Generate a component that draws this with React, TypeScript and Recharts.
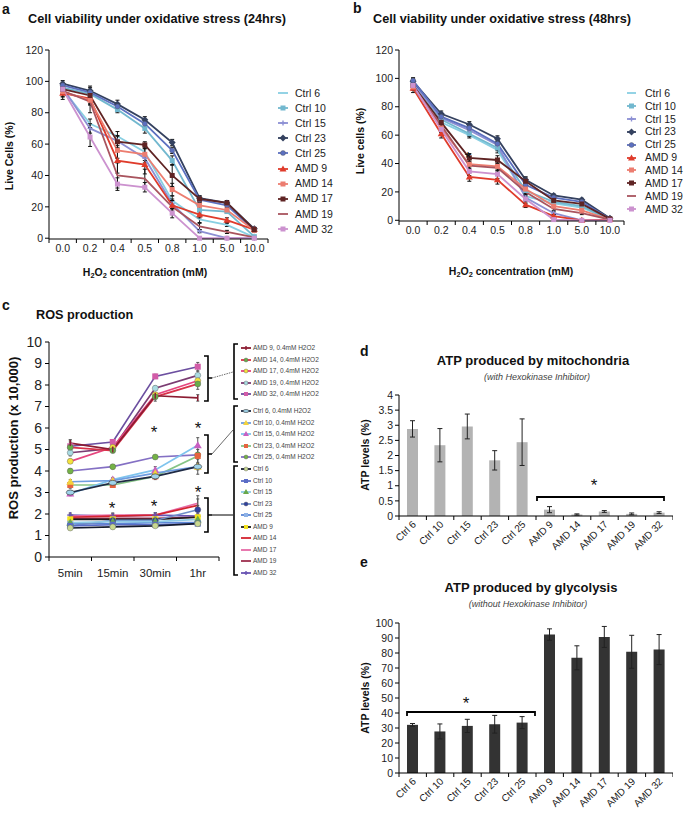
import React from "react";
import { LineChart, Line, BarChart, Bar, XAxis, YAxis, ErrorBar } from "recharts";

const FONT = '"Liberation Sans", Arial, Helvetica, sans-serif';

// ---------- a / b: cell viability ----------
const doses = ["0.0", "0.2", "0.4", "0.5", "0.8", "1.0", "5.0", "10.0"];
const viabilityTicks = [0, 20, 40, 60, 80, 100, 120];

// 24 hrs (% live cells)
const v24Ctrl6 = [95, 73, 65, 55, 24, 12, 8.5, 0.5];
const v24Ctrl10 = [96, 92, 82, 70, 49.5, 18, 17, 1];
const v24Ctrl15 = [96, 70, 62, 51, 22, 4.5, 0, 0];
const v24Ctrl23 = [98.5, 94, 85.5, 75.5, 61, 25.5, 22.5, 6];
const v24Ctrl25 = [97.5, 93, 84, 73, 56, 24.5, 21, 5];
const v24Amd9 = [92.5, 89, 49.5, 47, 21, 15, 11.5, 5.5];
const v24Amd14 = [93.5, 88, 56, 53.5, 31, 21, 18, 5];
const v24Amd17 = [95, 91, 61.5, 59.5, 40, 25, 22.5, 5.5];
const v24Amd19 = [94, 87, 40, 38, 20, 7.5, 4, 0.5];
const v24Amd32 = [95, 64.5, 34.5, 32.5, 16, 0, 0, 0];

const e24Ctrl6 = [3, 3, 3, 2, 3, 2, 1, 0.5];
const e24Ctrl10 = [2, 2, 2, 3, 3, 2, 1, 0.5];
const e24Ctrl15 = [2, 3, 3, 3, 3, 1, 0.5, 0.5];
const e24Ctrl23 = [2, 2, 2.5, 2, 2, 1.5, 1.5, 1];
const e24Ctrl25 = [2, 2, 2, 2, 2, 1.5, 1.5, 1];
const e24Amd9 = [4, 3, 8, 6, 3, 2, 1.5, 1];
const e24Amd14 = [3, 3, 5, 4, 4, 2, 1.5, 1];
const e24Amd17 = [3, 6, 4, 2, 7, 2, 1.5, 1];
const e24Amd19 = [4, 7, 8, 6, 4, 2, 1, 0.5];
const e24Amd32 = [3, 6, 4, 3, 3, 0, 0, 0];

// 48 hrs (% live cells)
const v48Ctrl6 = [96, 69, 60, 49.5, 17, 12, 9, 0.5];
const v48Ctrl10 = [97, 71, 61, 51, 21, 13, 10, 0.5];
const v48Ctrl15 = [97, 72, 63.5, 53, 16, 5, 0, 0.5];
const v48Ctrl23 = [98, 75, 67.5, 57.5, 28.5, 17.5, 14.5, 1.5];
const v48Ctrl25 = [98.5, 73, 65, 54, 25, 16, 13, 1];
const v48Amd9 = [93, 61, 30.5, 28.5, 11, 3, 0, 0.5];
const v48Amd14 = [94, 65, 39.5, 38, 22, 10, 7, 0.5];
const v48Amd17 = [95, 69, 44, 42.5, 27.5, 14, 11.5, 1];
const v48Amd19 = [94, 67, 38.5, 37, 20, 8, 5, 0.5];
const v48Amd32 = [95, 64, 34.5, 32.5, 15, 0.5, 0, 0];

const e48Ctrl6 = [2, 2, 2, 2, 2, 1, 1, 0.5];
const e48Ctrl10 = [2, 2, 2, 2, 2, 1, 1, 0.5];
const e48Ctrl15 = [2, 2, 2, 2, 2, 1, 0.5, 0.5];
const e48Ctrl23 = [2, 2, 2, 2, 2, 1, 1, 0.5];
const e48Ctrl25 = [2, 2, 2, 2, 2, 1, 1, 0.5];
const e48Amd9 = [3, 3, 3, 3, 2, 1, 0.5, 0.5];
const e48Amd14 = [2, 3, 3, 3, 3, 1, 1, 0.5];
const e48Amd17 = [3, 5, 3, 3, 3, 1, 1, 0.5];
const e48Amd19 = [2, 4, 3, 3, 3, 1, 1, 0.5];
const e48Amd32 = [2, 4, 3, 3, 3, 0.5, 0, 0];

const viabilitySeries = [
  { name: "Ctrl 6", color: "#88cfe2", mark: "none" },
  { name: "Ctrl 10", color: "#72b8cf", mark: "square" },
  { name: "Ctrl 15", color: "#8d90d4", mark: "plus" },
  { name: "Ctrl 23", color: "#34415f", mark: "diamond" },
  { name: "Ctrl 25", color: "#5c70c0", mark: "circle" },
  { name: "AMD 9", color: "#df3b2b", mark: "triangle" },
  { name: "AMD 14", color: "#ec7d70", mark: "square" },
  { name: "AMD 17", color: "#5f2424", mark: "square" },
  { name: "AMD 19", color: "#a9545e", mark: "none" },
  { name: "AMD 32", color: "#cc92cf", mark: "square" },
];
const v24 = [v24Ctrl6, v24Ctrl10, v24Ctrl15, v24Ctrl23, v24Ctrl25, v24Amd9, v24Amd14, v24Amd17, v24Amd19, v24Amd32];
const e24 = [e24Ctrl6, e24Ctrl10, e24Ctrl15, e24Ctrl23, e24Ctrl25, e24Amd9, e24Amd14, e24Amd17, e24Amd19, e24Amd32];
const v48 = [v48Ctrl6, v48Ctrl10, v48Ctrl15, v48Ctrl23, v48Ctrl25, v48Amd9, v48Amd14, v48Amd17, v48Amd19, v48Amd32];
const e48 = [e48Ctrl6, e48Ctrl10, e48Ctrl15, e48Ctrl23, e48Ctrl25, e48Amd9, e48Amd14, e48Amd17, e48Amd19, e48Amd32];

// ---------- c: ROS production (x 10,000) ----------
const times = ["5min", "15min", "30min", "1hr"];
const rosTicks = [0, 1, 2, 3, 4, 5, 6, 7, 8, 9, 10];

const rAmd9H = [5.3, 5.0, 7.5, 7.4];
const rAmd14H = [5.1, 4.95, 7.45, 8.05];
const rAmd17H = [4.45, 5.1, 7.55, 8.2];
const rAmd19H = [4.85, 5.05, 7.85, 8.45];
const rAmd32H = [5.15, 5.35, 8.4, 8.85];
const rCtrl6H = [3.0, 3.45, 3.75, 4.2];
const rCtrl10H = [3.5, 3.55, 3.9, 4.2];
const rCtrl15H = [2.95, 3.6, 4.05, 5.2];
const rCtrl23H = [3.35, 3.35, 3.75, 4.7];
const rCtrl25H = [4.0, 4.2, 4.65, 4.75];
const rCtrl6 = [1.35, 1.4, 1.45, 1.55];
const rCtrl10 = [1.45, 1.5, 1.5, 1.55];
const rCtrl15 = [1.6, 1.65, 1.65, 1.75];
const rCtrl23 = [1.45, 1.7, 1.7, 2.2];
const rCtrl25 = [1.55, 1.55, 1.6, 1.6];
const rAmd9 = [1.75, 1.75, 1.75, 1.85];
const rAmd14 = [1.85, 1.9, 1.95, 2.4];
const rAmd17 = [1.9, 1.95, 1.95, 2.5];
const rAmd19 = [1.8, 1.8, 1.8, 1.85];
const rAmd32 = [1.95, 1.9, 1.95, 1.9];

const reAmd9H = [0.15, 0.1, 0.15, 0.15];
const reAmd14H = [0.35, 0.1, 0.2, 0.25];
const reAmd17H = [0.1, 0.1, 0.1, 0.2];
const reAmd19H = [0.15, 0.1, 0.1, 0.2];
const reAmd32H = [0.2, 0.1, 0.1, 0.2];
const reCtrl6H = [0.1, 0.1, 0.1, 0.15];
const reCtrl10H = [0.1, 0.1, 0.1, 0.35];
const reCtrl15H = [0.1, 0.1, 0.15, 0.35];
const reCtrl23H = [0.15, 0.1, 0.15, 0.3];
const reCtrl25H = [0.1, 0.1, 0.05, 0.1];
const reCtrl6 = [0.05, 0.05, 0.05, 0.05];
const reCtrl10 = [0.05, 0.05, 0.05, 0.05];
const reCtrl15 = [0.05, 0.05, 0.05, 0.1];
const reCtrl23 = [0.1, 0.1, 0.1, 0.2];
const reCtrl25 = [0.05, 0.05, 0.05, 0.05];
const reAmd9 = [0.05, 0.05, 0.05, 0.1];
const reAmd14 = [0.1, 0.1, 0.1, 0.3];
const reAmd17 = [0.1, 0.1, 0.1, 0.35];
const reAmd19 = [0.05, 0.05, 0.05, 0.1];
const reAmd32 = [0.1, 0.1, 0.1, 0.1];

const rosSeries = [
  { name: "AMD 9, 0.4mM H2O2", color: "#8c1c32", mark: "bar" },
  { name: "AMD 14, 0.4mM H2O2", color: "#d8324a", mark: "circle", markColor: "#67ad4a" },
  { name: "AMD 17, 0.4mM H2O2", color: "#e5457e", mark: "circle", markColor: "#f4e23c" },
  { name: "AMD 19, 0.4mM H2O2", color: "#7b3c72", mark: "circle", markColor: "#a9dbe2" },
  { name: "AMD 32, 0.4mM H2O2", color: "#6c4fa0", mark: "square", markColor: "#d25ca8" },
  { name: "Ctrl 6, 0.4mM H2O2", color: "#1f2a44", mark: "oval", markColor: "#9fd3ea" },
  { name: "Ctrl 10, 0.4mM H2O2", color: "#6f9ee0", mark: "triangle", markColor: "#f2d23e" },
  { name: "Ctrl 15, 0.4mM H2O2", color: "#7fc4ee", mark: "triangle", markColor: "#c85fc2" },
  { name: "Ctrl 23, 0.4mM H2O2", color: "#86c486", mark: "square", markColor: "#e5643f" },
  { name: "Ctrl 25, 0.4mM H2O2", color: "#8470c4", mark: "circle", markColor: "#74b246" },
  { name: "Ctrl 6", color: "#151b2e", mark: "circle", markColor: "#c9d890" },
  { name: "Ctrl 10", color: "#5a6cc6", mark: "square", markColor: "#5a6cc6" },
  { name: "Ctrl 15", color: "#8fcbe6", mark: "triangle", markColor: "#68a84a" },
  { name: "Ctrl 23", color: "#6f8ec8", mark: "circle", markColor: "#2f3f9e" },
  { name: "Ctrl 25", color: "#5b86d6", mark: "square", markColor: "#8eb2e6" },
  { name: "AMD 9", color: "#1c1c1c", mark: "square", markColor: "#f2e21e" },
  { name: "AMD 14", color: "#d4242f", mark: "none" },
  { name: "AMD 17", color: "#e66aa6", mark: "none" },
  { name: "AMD 19", color: "#9e2f4e", mark: "none" },
  { name: "AMD 32", color: "#6a55b4", mark: "plus", markColor: "#6a55b4" },
];
const rosValues = [rAmd9H, rAmd14H, rAmd17H, rAmd19H, rAmd32H, rCtrl6H, rCtrl10H, rCtrl15H, rCtrl23H, rCtrl25H,
  rCtrl6, rCtrl10, rCtrl15, rCtrl23, rCtrl25, rAmd9, rAmd14, rAmd17, rAmd19, rAmd32];
const rosErrors = [reAmd9H, reAmd14H, reAmd17H, reAmd19H, reAmd32H, reCtrl6H, reCtrl10H, reCtrl15H, reCtrl23H, reCtrl25H,
  reCtrl6, reCtrl10, reCtrl15, reCtrl23, reCtrl25, reAmd9, reAmd14, reAmd17, reAmd19, reAmd32];

// ---------- d / e: ATP ----------
const lines = ["Ctrl 6", "Ctrl 10", "Ctrl 15", "Ctrl 23", "Ctrl 25", "AMD 9", "AMD 14", "AMD 17", "AMD 19", "AMD 32"];
const atpMito = [2.88, 2.34, 2.96, 1.84, 2.44, 0.21, 0.05, 0.15, 0.07, 0.11];
const atpMitoErr = [0.27, 0.55, 0.41, 0.32, 0.77, 0.1, 0.02, 0.03, 0.03, 0.03];
const mitoTicks = [0, 0.5, 1, 1.5, 2, 2.5, 3, 3.5, 4];
const atpGlyco = [32.1, 27.7, 31.4, 32.5, 33.6, 92.3, 76.8, 90.7, 80.8, 82.3];
const atpGlycoErr = [0.9, 5, 4.4, 5.9, 4, 3.8, 8, 7, 11, 10];
const glycoTicks = [0, 10, 20, 30, 40, 50, 60, 70, 80, 90, 100];

function toRows(cats: string[], values: number[][], errors: number[][]) {
  return cats.map((cat, i) => {
    const row: Record<string, string | number> = { cat };
    values.forEach((v, s) => {
      row["v" + s] = v[i];
      row["e" + s] = errors[s][i];
    });
    return row;
  });
}

function Marker({ cx, cy, shape, fill, size }: any) {
  if (cx == null || cy == null) return <g />;
  const r = size / 2;
  switch (shape) {
    case "circle":
      return <circle cx={cx} cy={cy} r={r} fill={fill} stroke="#555" strokeWidth={0.4} />;
    case "oval":
      return <ellipse cx={cx} cy={cy} rx={r + 1} ry={r - 0.5} fill={fill} stroke="#333" strokeWidth={0.6} />;
    case "square":
      return <rect x={cx - r} y={cy - r} width={size} height={size} fill={fill} />;
    case "diamond":
      return <polygon points={`${cx},${cy - r - 1} ${cx + r + 1},${cy} ${cx},${cy + r + 1} ${cx - r - 1},${cy}`} fill={fill} />;
    case "triangle":
      return <polygon points={`${cx},${cy - r - 1} ${cx + r + 1},${cy + r} ${cx - r - 1},${cy + r}`} fill={fill} />;
    case "plus":
      return (
        <g stroke={fill} strokeWidth={1.4}>
          <line x1={cx - r} x2={cx + r} y1={cy} y2={cy} />
          <line x1={cx} x2={cx} y1={cy - r} y2={cy + r} />
        </g>
      );
    case "bar":
      return <line x1={cx} x2={cx} y1={cy - r} y2={cy + r} stroke={fill} strokeWidth={1.4} />;
    default:
      return <g />;
  }
}

// category label at the band centre, tick marks on the band edges (Excel style)
function BandTick(props: any) {
  const { x, y, payload, index, bw, count, fontSize, dy, rotate } = props;
  const edge = (px: number) => <line x1={px} x2={px} y1={y} y2={y + 4} stroke="#000" strokeWidth={1} />;
  return (
    <g>
      {edge(x - bw / 2)}
      {index === count - 1 && edge(x + bw / 2)}
      {rotate ? (
        <text x={x + 4} y={y + dy} textAnchor="end" fontSize={fontSize} fill="#222"
          transform={`rotate(-45 ${x + 4} ${y + dy})`}>{payload.value}</text>
      ) : (
        <text x={x} y={y + dy} textAnchor="middle" fontSize={fontSize} fill="#222">{payload.value}</text>
      )}
    </g>
  );
}

function Txt({ x, y, size, bold, italic, anchor = "middle", rotate, color = "#111", children }: any) {
  const tx = anchor === "middle" ? "-50%" : anchor === "end" ? "-100%" : "0";
  return (
    <div style={{
      position: "absolute", left: x, top: y, whiteSpace: "nowrap", lineHeight: 1, color,
      fontSize: size, fontWeight: bold ? 700 : 400, fontStyle: italic ? "italic" : "normal",
      transform: `translate(${tx}, -50%)${rotate ? ` rotate(${rotate}deg)` : ""}`,
    }}>{children}</div>
  );
}

function Legend({ items, left, ys, fontSize, textOffset, lineLen, color = "#222", markSize }: any) {
  return (
    <>
      {items.map((s: any, i: number) => (
        <div key={s.name} style={{ position: "absolute", left, top: ys[i], height: 0 }}>
          <svg width={lineLen + 2} height={10} style={{ position: "absolute", left: 0, top: -5 }}>
            <line x1={0} x2={lineLen} y1={5} y2={5} stroke={s.color} strokeWidth={1.8} />
            <Marker cx={lineLen / 2} cy={5} shape={s.mark} fill={s.markColor ?? s.color} size={markSize} />
          </svg>
          <span style={{ position: "absolute", left: textOffset, top: -fontSize * 0.6, fontSize, lineHeight: 1.2, whiteSpace: "nowrap", color }}>
            {s.name}
          </span>
        </div>
      ))}
    </>
  );
}

function ViabilityChart({ left, top, width, height, bw, values, errors }: any) {
  const rows = toRows(doses, values, errors);
  return (
    <div style={{ position: "absolute", left, top }}>
      <LineChart width={width} height={height} data={rows} margin={{ top: 10, right: width === 270 ? 2 : 1, left: 0, bottom: 0 }}>
        <XAxis dataKey="cat" interval={0} height={22} tickSize={0} tickMargin={0} tickLine={false}
          axisLine={{ stroke: "#000" }} padding={{ left: bw / 2, right: bw / 2 }}
          tick={(p: any) => <BandTick {...p} bw={bw} count={doses.length} fontSize={10.5} dy={13} />} />
        <YAxis domain={[0, 120]} ticks={viabilityTicks} interval={0} width={49} tickSize={4} tickMargin={2}
          axisLine={{ stroke: "#000" }} tickLine={{ stroke: "#000" }} tick={{ fontSize: 10.5, fill: "#222" }} />
        {viabilitySeries.map((s, k) => (
          <Line key={s.name} dataKey={"v" + k} type="linear" stroke={s.color} strokeWidth={1.8}
            isAnimationActive={false} activeDot={false}
            dot={(p: any) => <Marker key={`${k}-${p.index}`} cx={p.cx} cy={p.cy} shape={s.mark} fill={s.color} size={5} />}>
            <ErrorBar dataKey={"e" + k} width={2} stroke="#111" strokeWidth={1} direction="y" isAnimationActive={false} />
          </Line>
        ))}
      </LineChart>
    </div>
  );
}

function RosChart() {
  const rows = toRows(times, rosValues, rosErrors);
  const bw = 42.5;
  const order = rosSeries.map((_, k) => k).reverse();
  return (
    <div style={{ position: "absolute", left: 0, top: 330 }}>
      <LineChart width={220} height={252} data={rows} margin={{ top: 12, right: 1, left: 0, bottom: 0 }}>
        <XAxis dataKey="cat" interval={0} height={25} tickSize={0} tickMargin={0} tickLine={false}
          axisLine={{ stroke: "#000" }} padding={{ left: bw / 2, right: bw / 2 }}
          tick={(p: any) => <BandTick {...p} bw={bw} count={times.length} fontSize={11.5} dy={20} />} />
        <YAxis domain={[0, 10]} ticks={rosTicks} interval={0} width={49} tickSize={4} tickMargin={3}
          axisLine={{ stroke: "#000" }} tickLine={{ stroke: "#000" }} tick={{ fontSize: 14, fill: "#222" }} />
        {order.map((k) => {
          const s = rosSeries[k];
          return (
            <Line key={s.name} dataKey={"v" + k} type="linear" stroke={s.color} strokeWidth={1.7}
              isAnimationActive={false} activeDot={false}
              dot={(p: any) => <Marker key={`${k}-${p.index}`} cx={p.cx} cy={p.cy} shape={s.mark} fill={s.markColor ?? s.color} size={6} />}>
              <ErrorBar dataKey={"e" + k} width={1.5} stroke="#555" strokeWidth={1} direction="y" isAnimationActive={false} />
            </Line>
          );
        })}
      </LineChart>
    </div>
  );
}

function AtpChart({ top, height, values, errors, ticks, max, fill }: any) {
  const rows = lines.map((cat, i) => ({ cat, v: values[i], e: errors[i] }));
  const bw = 27.4;
  return (
    <div style={{ position: "absolute", left: 350, top }}>
      <BarChart width={323} height={height} data={rows} margin={{ top: 10, right: 0, left: 0, bottom: 0 }}>
        <XAxis dataKey="cat" interval={0} height={height - 10 - (max === 4 ? 121 : 150)} tickSize={0} tickMargin={0} tickLine={false}
          axisLine={{ stroke: "#000" }}
          tick={(p: any) => <BandTick {...p} bw={bw} count={lines.length} fontSize={10} dy={9} rotate />} />
        <YAxis domain={[0, max]} ticks={ticks} interval={0} width={49} tickSize={4} tickMargin={2}
          axisLine={{ stroke: "#000" }} tickLine={{ stroke: "#000" }} tick={{ fontSize: 10.5, fill: "#222" }} />
        <Bar dataKey="v" fill={fill} barSize={11} isAnimationActive={false}>
          <ErrorBar dataKey="e" width={2.5} stroke="#222" strokeWidth={1} isAnimationActive={false} />
        </Bar>
      </BarChart>
    </div>
  );
}

function Star({ x, y, size = 17 }: any) {
  return <text x={x} y={y + size * 0.58} textAnchor="middle" fontSize={size} fill="#111">*</text>;
}

function Annotations() {
  const k = { stroke: "#000", strokeWidth: 1.6, fill: "none" };
  return (
    <svg width={685} height={815} style={{ position: "absolute", left: 0, top: 0, pointerEvents: "none", fontFamily: FONT }}>
      <Star x={468} y={154} />
      {/* c: significance */}
      <Star x={154} y={428} />
      <Star x={198} y={424} />
      <Star x={198} y={488} />
      <Star x={112} y={504} />
      <Star x={154} y={502} />
      {/* c: brackets on the 1hr points and their links to the legend groups */}
      <path d="M204,356 H208 V401 H204 M208,378 H212" {...k} />
      <path d="M204,435 H208 V473 H204 M208,454 H212" {...k} />
      <path d="M204,498 H208 V532 H204 M208,515 H212" {...k} />
      <path d="M212,378 L233,372" stroke="#444" strokeWidth={0.8} strokeDasharray="1.5 1" />
      <path d="M212,454 L233,430" stroke="#444" strokeWidth={0.8} />
      <path d="M212,515 L233,515" stroke="#000" strokeWidth={1} />
      <path d="M238,344 H234 V399 H238" {...k} />
      <path d="M238,406 H234 V462 H238" {...k} />
      <path d="M238,466 H234 V575 H238" {...k} />
      {/* d */}
      <path d="M537,501 V497 H664 V501" {...k} strokeWidth={1.8} />
      <Star x={594} y={481} />
      {/* e */}
      <path d="M407,716 V712 H535 V716" {...k} strokeWidth={1.8} />
      <Star x={466} y={699} />
    </svg>
  );
}

export default function App() {
  const g = [348, 359.5, 371, 382.5, 394, 411, 422.5, 434, 445.5, 457];
  const rosYs = [...g, ...Array.from({ length: 10 }, (_, i) => 469 + i * 11.5)];
  const step = (y0: number, d: number) => viabilitySeries.map((_, i) => y0 + i * d);
  const h2o2 = (
    <>H<sub style={{ fontSize: "70%", verticalAlign: "-0.3em" }}>2</sub>O<sub style={{ fontSize: "70%", verticalAlign: "-0.3em" }}>2</sub> concentration (mM)</>
  );
  return (
    <div style={{ position: "absolute", left: 0, top: 0, width: 685, height: 815, background: "#fff", fontFamily: FONT, color: "#111", overflow: "hidden" }}>
      {/* a */}
      <Txt x={2} y={9} size={14} bold anchor="start">a</Txt>
      <Txt x={28} y={19} size={12.7} bold anchor="start">Cell viability under oxidative stress (24hrs)</Txt>
      <ViabilityChart left={0} top={40} width={270} height={221} bw={27.375} values={v24} errors={e24} />
      <Txt x={9} y={156} size={10.5} bold rotate={-90}>Live Cells (%)</Txt>
      <Txt x={145} y={273} size={10.5} bold>{h2o2}</Txt>
      <Legend items={viabilitySeries} left={278} ys={step(93, 15.1)} fontSize={10.5} textOffset={17} lineLen={10} markSize={5} />

      {/* b */}
      <Txt x={353} y={8} size={14} bold anchor="start">b</Txt>
      <Txt x={373} y={19} size={12.7} bold anchor="start">Cell viability under oxidative stress (48hrs)</Txt>
      <ViabilityChart left={350} top={40} width={275} height={203} bw={28.125} values={v48} errors={e48} />
      <Txt x={360} y={141} size={10.5} bold rotate={-90}>Live cells (%)</Txt>
      <Txt x={511} y={272} size={10.5} bold>{h2o2}</Txt>
      <Legend items={viabilitySeries} left={627} ys={step(93, 12.9)} fontSize={10.5} textOffset={18} lineLen={9} markSize={5} />

      {/* c */}
      <Txt x={2} y={305} size={14} bold anchor="start">c</Txt>
      <Txt x={36} y={315} size={12.7} bold anchor="start">ROS production</Txt>
      <RosChart />
      <Txt x={12.5} y={438} size={13} bold rotate={-90}>ROS production (x 10,000)</Txt>
      <Legend items={rosSeries} left={241} ys={rosYs} fontSize={6.5} textOffset={12} lineLen={10} markSize={4} color="#444" />

      {/* d */}
      <Txt x={360} y={351} size={14} bold anchor="start">d</Txt>
      <Txt x={533} y={360} size={13} bold>ATP produced by mitochondria</Txt>
      <Txt x={537} y={377} size={9} italic color="#444">(with Hexokinase Inhibitor)</Txt>
      <AtpChart top={385} height={181} values={atpMito} errors={atpMitoErr} ticks={mitoTicks} max={4} fill="#b3b3b3" />
      <Txt x={365} y={455} size={10.5} bold rotate={-90}>ATP levels (%)</Txt>

      {/* e */}
      <Txt x={360} y={562} size={14} bold anchor="start">e</Txt>
      <Txt x={531} y={587} size={13} bold>ATP produced by glycolysis</Txt>
      <Txt x={528} y={604} size={9} italic color="#444">(without Hexokinase Inhibitor)</Txt>
      <AtpChart top={613} height={202} values={atpGlyco} errors={atpGlycoErr} ticks={glycoTicks} max={100} fill="#333333" />
      <Txt x={365} y={698} size={10.5} bold rotate={-90}>ATP levels (%)</Txt>

      <Annotations />
    </div>
  );
}
